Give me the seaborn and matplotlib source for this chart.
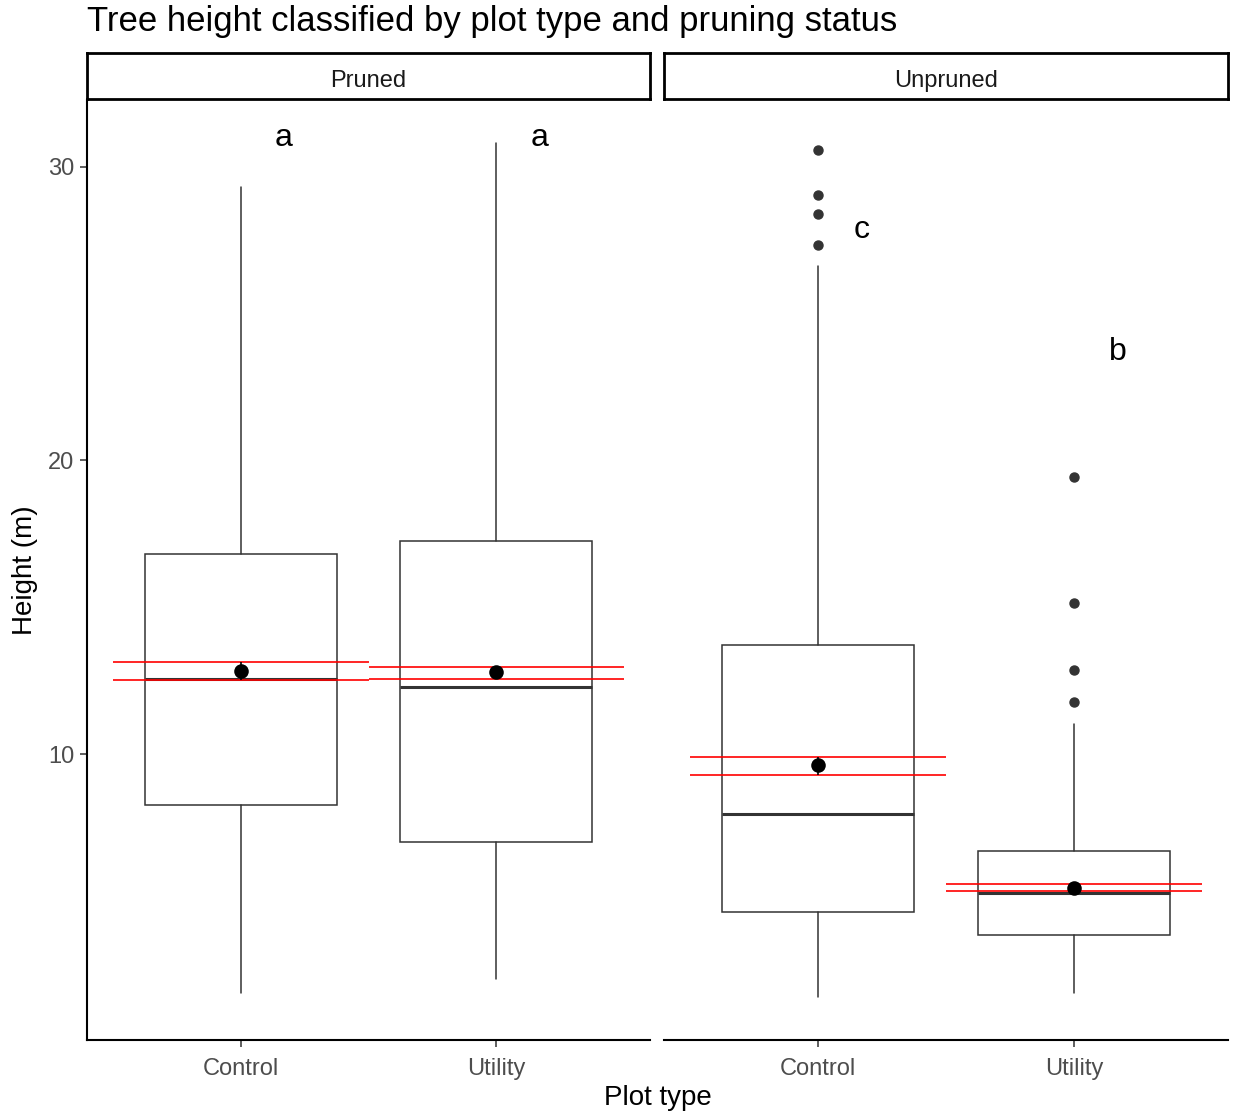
import numpy as np
import pandas as pd
import matplotlib
matplotlib.use("Agg")
import matplotlib.pyplot as plt
import seaborn as sns

# ---- data ----
panels = ["Pruned", "Unpruned"]
plot_types = ["Control", "Utility"]

whisker_low = {"Pruned": [1.87, 2.35], "Unpruned": [1.74, 1.87]}
q1 = {"Pruned": [8.28, 7.02], "Unpruned": [4.63, 3.82]}
median = {"Pruned": [12.57, 12.30], "Unpruned": [7.97, 5.28]}
q3 = {"Pruned": [16.83, 17.27], "Unpruned": [13.70, 6.71]}
whisker_high = {"Pruned": [29.33, 30.83], "Unpruned": [26.61, 11.04]}
outliers = {"Pruned": [[], []],
            "Unpruned": [[30.56, 29.06, 28.38, 27.33], [19.45, 15.13, 12.88, 11.79]]}
means = {"Pruned": [12.84, 12.80], "Unpruned": [9.62, 5.45]}
se_low = {"Pruned": [12.54, 12.57], "Unpruned": [9.27, 5.32]}
se_high = {"Pruned": [13.12, 12.98], "Unpruned": [9.91, 5.59]}
letters = {"Pruned": ["a", "a"], "Unpruned": ["c", "b"]}
letter_y = {"Pruned": [31.0, 31.0], "Unpruned": [27.85, 23.7]}

yticks = [10, 20, 30]

sns.set_theme(style="ticks")
plt.rcParams["font.family"] = ["Liberation Sans", "DejaVu Sans"]

W, H = 1233, 1118
fig = plt.figure(figsize=(W / 100, H / 100), dpi=100)

def fx(px):
    return px / W

def fy(py):
    return 1 - py / H

panel_px = {"Pruned": (87, 650), "Unpruned": (664, 1228)}
top_px, bot_px = 100, 1040
strip_top = 53

grey = "#333333"
for i, p in enumerate(panels):
    x0, x1 = panel_px[p]
    ax = fig.add_axes([fx(x0), fy(bot_px), fx(x1 - x0), fy(top_px) - fy(bot_px)])
    stats = []
    for j in range(2):
        stats.append(dict(whislo=whisker_low[p][j], q1=q1[p][j], med=median[p][j],
                          q3=q3[p][j], whishi=whisker_high[p][j], fliers=outliers[p][j]))
    ax.bxp(stats, positions=[0, 1], widths=0.75, patch_artist=True,
           showcaps=False,
           boxprops=dict(facecolor="white", edgecolor=grey, linewidth=1.1),
           medianprops=dict(color=grey, linewidth=2.2),
           whiskerprops=dict(color=grey, linewidth=1.1),
           flierprops=dict(marker="o", markerfacecolor=grey, markeredgecolor=grey,
                           markersize=6.5))
    # SE error bars (red) and mean points
    for j in range(2):
        ax.hlines([se_low[p][j], se_high[p][j]], j - 0.5, j + 0.5, color="red",
                  linewidth=1.2, zorder=4)
        ax.vlines(j, se_low[p][j], se_high[p][j], color="black", linewidth=1.2, zorder=5)
    df = pd.DataFrame({"x": [0, 1], "mean": means[p]})
    sns.scatterplot(data=df, x="x", y="mean", ax=ax, color="black", s=110,
                    edgecolor="black", linewidth=0, zorder=6, legend=False)
    for j in range(2):
        ax.text(j + 0.17, letter_y[p][j], letters[p][j], ha="center", va="center",
                fontsize=23, color="black")
    ax.set_xlim(-0.6, 1.6)
    ax.set_ylim(0.26, 32.28)
    ax.set_xticks([0, 1])
    ax.set_xticklabels(plot_types)
    ax.set_xlabel("")
    ax.set_ylabel("")
    for s in ["top", "right"]:
        ax.spines[s].set_visible(False)
    ax.spines["bottom"].set_linewidth(1.5)
    ax.spines["bottom"].set_color("black")
    ax.tick_params(axis="x", pad=8)
    ax.tick_params(axis="y", pad=4)
    ax.tick_params(axis="both", colors=grey, labelcolor="#4D4D4D", labelsize=17,
                   length=5, width=1.1)
    if i == 0:
        ax.set_yticks(yticks)
        ax.spines["left"].set_linewidth(1.5)
        ax.spines["left"].set_color("black")
    else:
        ax.set_yticks([])
        ax.spines["left"].set_visible(False)
    ax.set_facecolor("white")
    # strip
    sax = fig.add_axes([fx(x0), fy(top_px - 1), fx(x1 - x0), fy(strip_top) - fy(top_px - 1)])
    sax.set_xticks([])
    sax.set_yticks([])
    for s in sax.spines.values():
        s.set_visible(True)
        s.set_color("black")
        s.set_linewidth(2.0)
    sax.set_facecolor("white")
    sax.text(0.5, 0.4, p, ha="center", va="center", fontsize=17, color="#1A1A1A",
             transform=sax.transAxes)

fig.text(fx(87), fy(22), "Tree height classified by plot type and pruning status",
         ha="left", va="center", fontsize=25, color="black")
fig.text(fx(658), fy(1098), "Plot type", ha="center", va="center", fontsize=20,
         color="black")
fig.text(fx(25), fy(570), "Height (m)", ha="center", va="center", fontsize=20,
         rotation=90, color="black")

fig.savefig("out.png", dpi=100, facecolor="white")
